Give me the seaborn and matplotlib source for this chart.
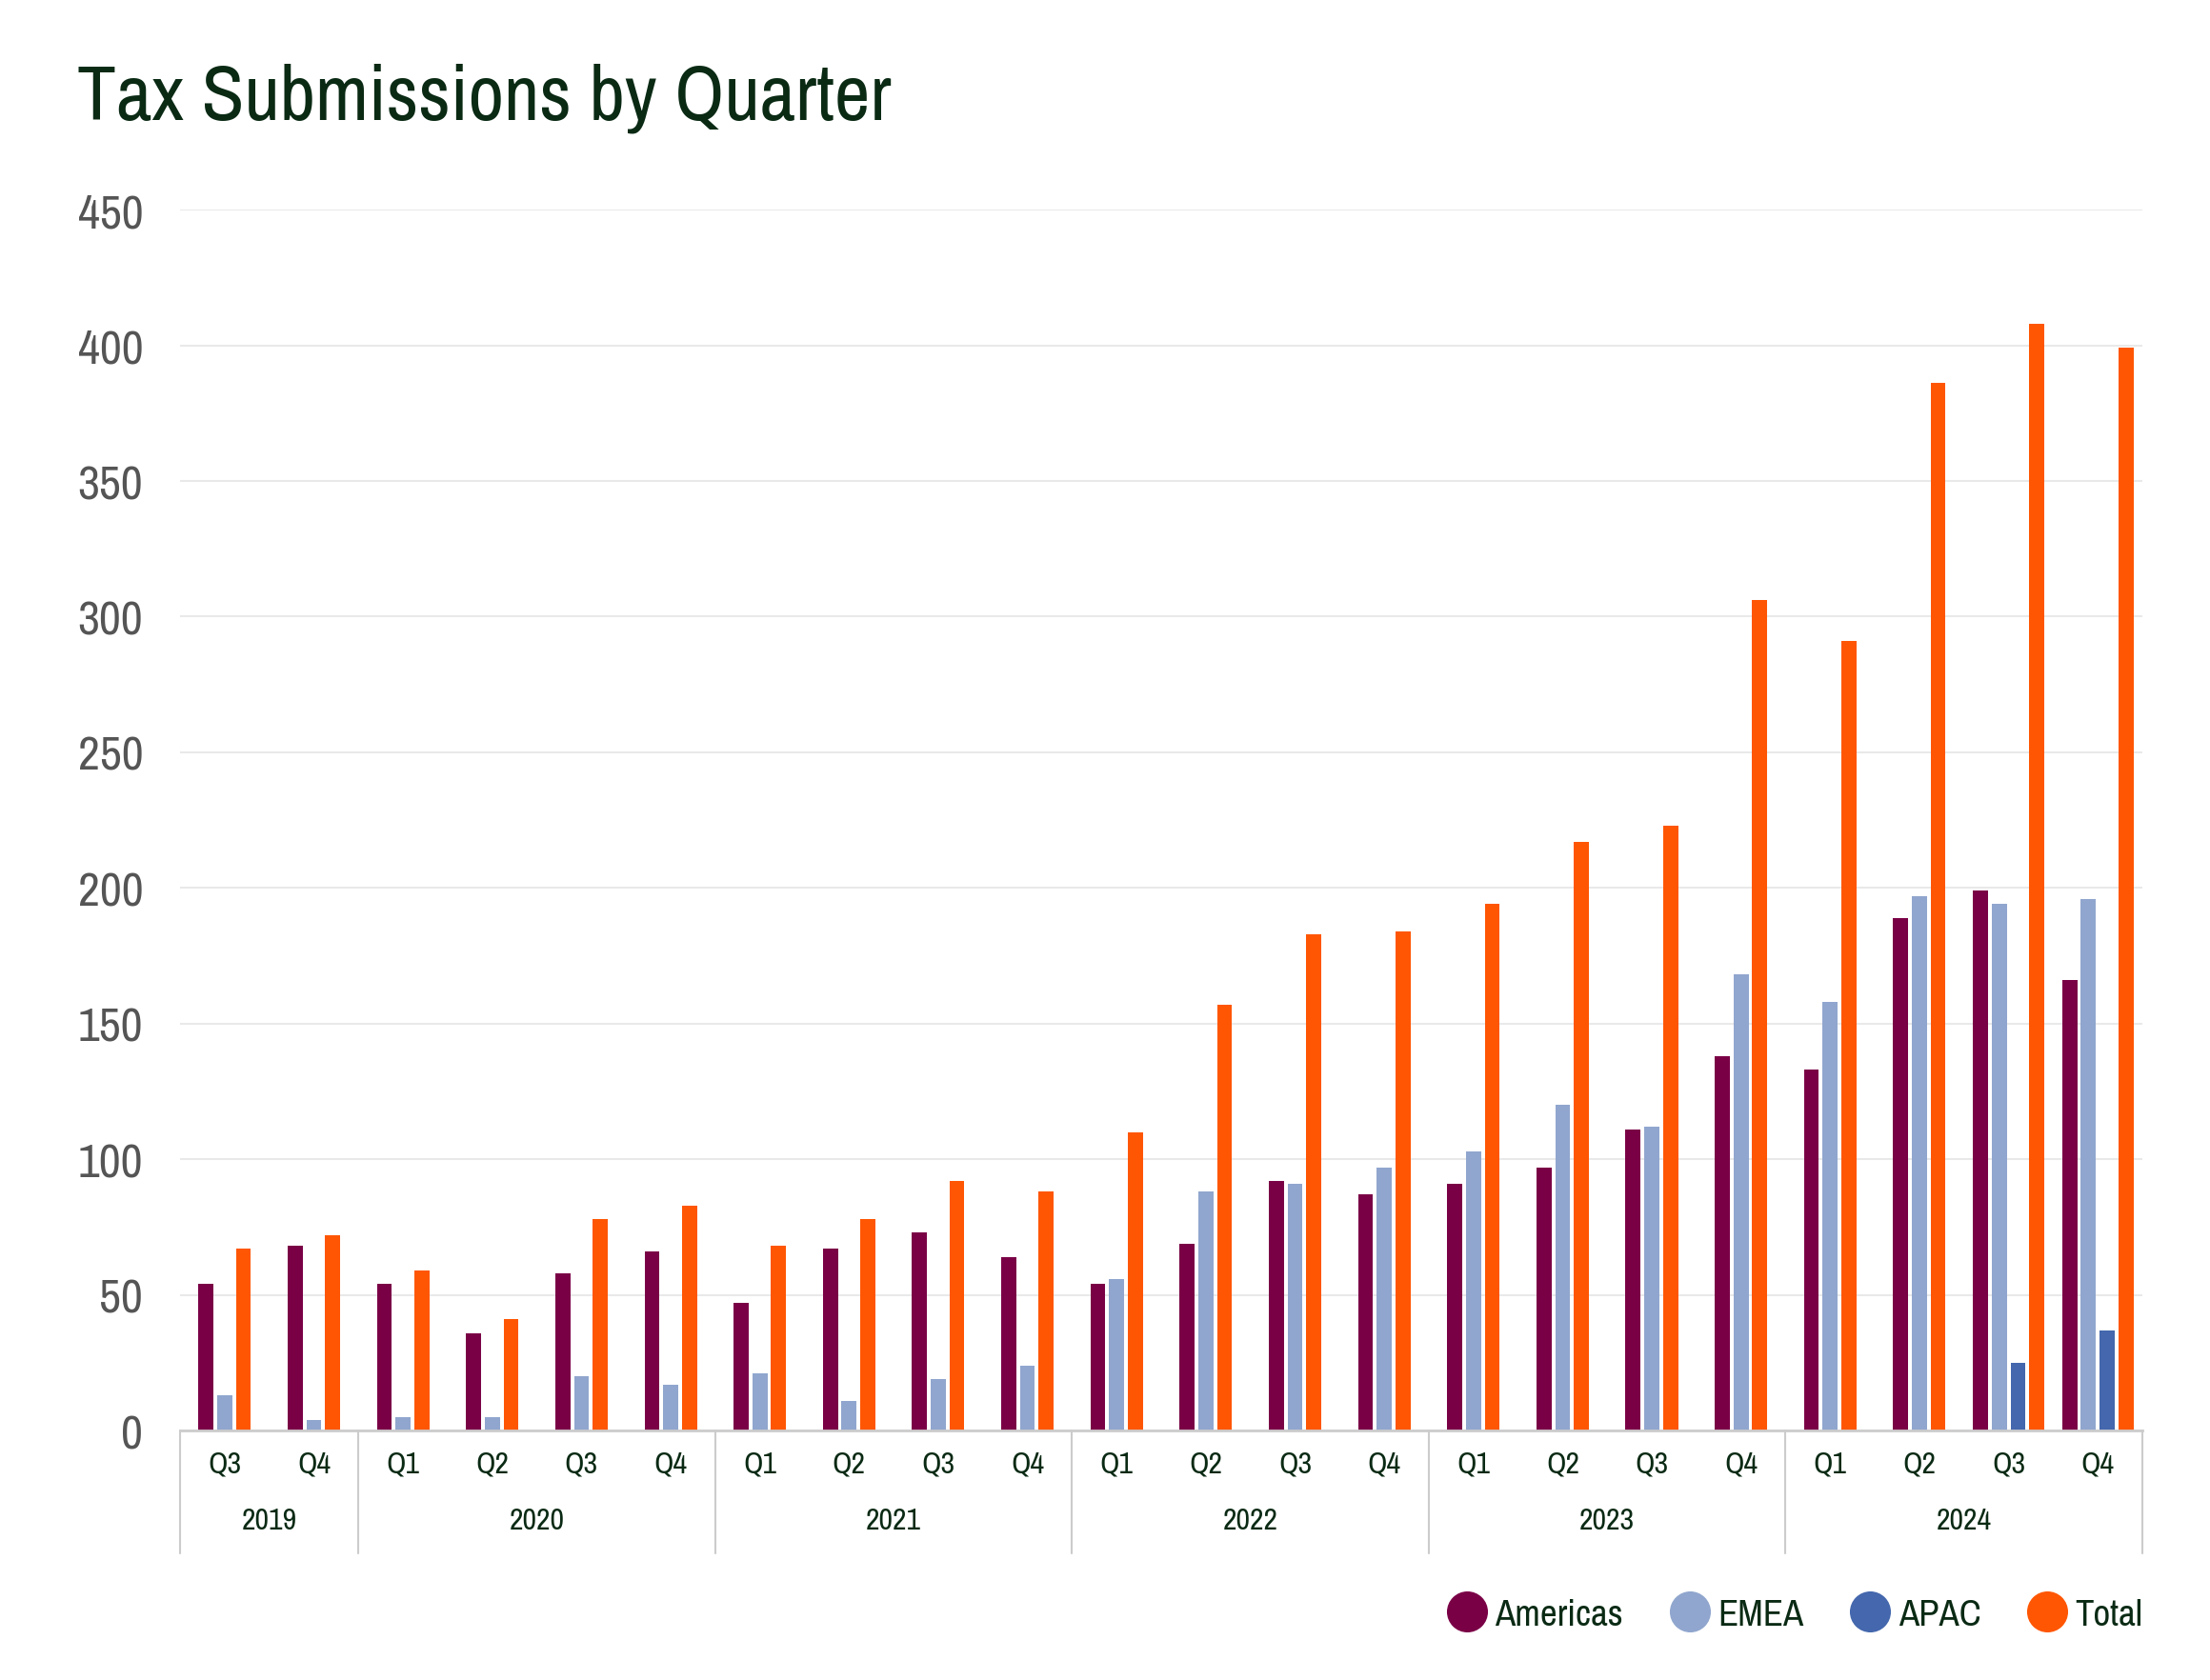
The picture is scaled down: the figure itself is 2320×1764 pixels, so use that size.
import pandas as pd
import matplotlib
matplotlib.use("Agg")
import matplotlib.pyplot as plt
import matplotlib.transforms as mtransforms
from matplotlib.lines import Line2D
import seaborn as sns
import seaborn.objects as so

# Werte
years = [2019, 2019,
         2020, 2020, 2020, 2020,
         2021, 2021, 2021, 2021,
         2022, 2022, 2022, 2022,
         2023, 2023, 2023, 2023,
         2024, 2024, 2024, 2024]
quarters = ["Q3", "Q4",
            "Q1", "Q2", "Q3", "Q4",
            "Q1", "Q2", "Q3", "Q4",
            "Q1", "Q2", "Q3", "Q4",
            "Q1", "Q2", "Q3", "Q4",
            "Q1", "Q2", "Q3", "Q4"]
americas = [54, 68, 54, 36, 58, 66, 47, 67, 73, 64, 54, 69, 92, 87, 91, 97, 111, 138, 133, 189, 199, 166]
emea = [13, 4, 5, 5, 20, 17, 21, 11, 19, 24, 56, 88, 91, 97, 103, 120, 112, 168, 158, 197, 194, 196]
apac = [None] * 20 + [25, 37]
total = [67, 72, 59, 41, 78, 83, 68, 78, 92, 88, 110, 157, 183, 184, 194, 217, 223, 306, 291, 386, 408, 399]

regions = ["Americas", "EMEA", "APAC", "Total"]
colors = ["#7a0046", "#90a6ce", "#4467ad", "#ff5603"]
title_color = "#0a2a14"

periods = [f"{y} {q}" for y, q in zip(years, quarters)]
rows = []
for reg, vals in zip(regions, [americas, emea, apac, total]):
    for p, v in zip(periods, vals):
        if v is not None:
            rows.append({"period": p, "region": reg, "value": v})
df = pd.DataFrame(rows)

sns.set_theme(style="white")
font_list = ["Archivo Narrow", "Roboto Condensed", "DejaVu Sans"]
plt.rcParams["font.family"] = font_list

fig = plt.figure(figsize=(23.2, 17.65), dpi=100)
ax = fig.add_axes([0.0815, 0.1484, 0.8879, 0.7263])

(
    so.Plot(df, x="period", y="value", color="region")
    .add(so.Bar(width=0.84, alpha=1, edgewidth=0), so.Dodge(empty="drop", gap=0.2))
    .scale(x=so.Nominal(order=periods),
           color=so.Nominal(dict(zip(regions, colors)), order=regions))
    .theme({**sns.axes_style("white"), "font.family": font_list})
    .on(ax)
    .plot()
)
fig.legends.clear()

ax.set_facecolor("white")
ax.set_xlabel("")
ax.set_ylabel("")
ax.set_ylim(0, 450)
ax.set_xlim(-0.5, len(periods) - 0.5)
ax.set_yticks(range(0, 451, 50))
ax.yaxis.grid(True, color="#e9e9e9", lw=1.5)
ax.xaxis.grid(False)
ax.set_axisbelow(True)
ax.set_xticks(range(len(periods)), quarters)
ax.tick_params(axis="y", labelsize=36, labelcolor="#555555", length=0, pad=28)
ax.tick_params(axis="x", labelsize=23, labelcolor=title_color, length=0, pad=15)
for s in ["top", "right", "left"]:
    ax.spines[s].set_visible(False)
ax.spines["bottom"].set_color("#cccccc")
ax.spines["bottom"].set_linewidth(2)

# Jahresgruppen unter der Achse
trans = mtransforms.blended_transform_factory(ax.transData, ax.transAxes)
bounds = [-0.5] + [i - 0.5 for i in range(1, len(years)) if years[i] != years[i - 1]] + [len(years) - 0.5]
for b in bounds:
    ax.plot([b, b], [0, -0.1006], transform=trans, clip_on=False, color="#cccccc", lw=1.5)
yr = pd.Series(range(len(years))).groupby(pd.Series(years)).mean()
for y, pos in yr.items():
    ax.text(pos, -0.0733, str(y), transform=trans, ha="center", va="center",
            fontsize=23, color=title_color)

fig.text(81 / 2320, 1 - 126 / 1765, "Tax Submissions by Quarter", fontsize=59,
         color=title_color, ha="left", va="baseline")

handles = [Line2D([], [], marker="o", ls="", markersize=31, markerfacecolor=c,
                  markeredgewidth=0) for c in colors]
fig.legend(handles, regions, ncol=4, loc="center right", bbox_to_anchor=(0.978, 0.039),
           frameon=False, fontsize=28, labelcolor=title_color, handletextpad=0.15,
           handlelength=1.2, columnspacing=1.2, borderpad=0)

fig.savefig("out.png", dpi=100)
